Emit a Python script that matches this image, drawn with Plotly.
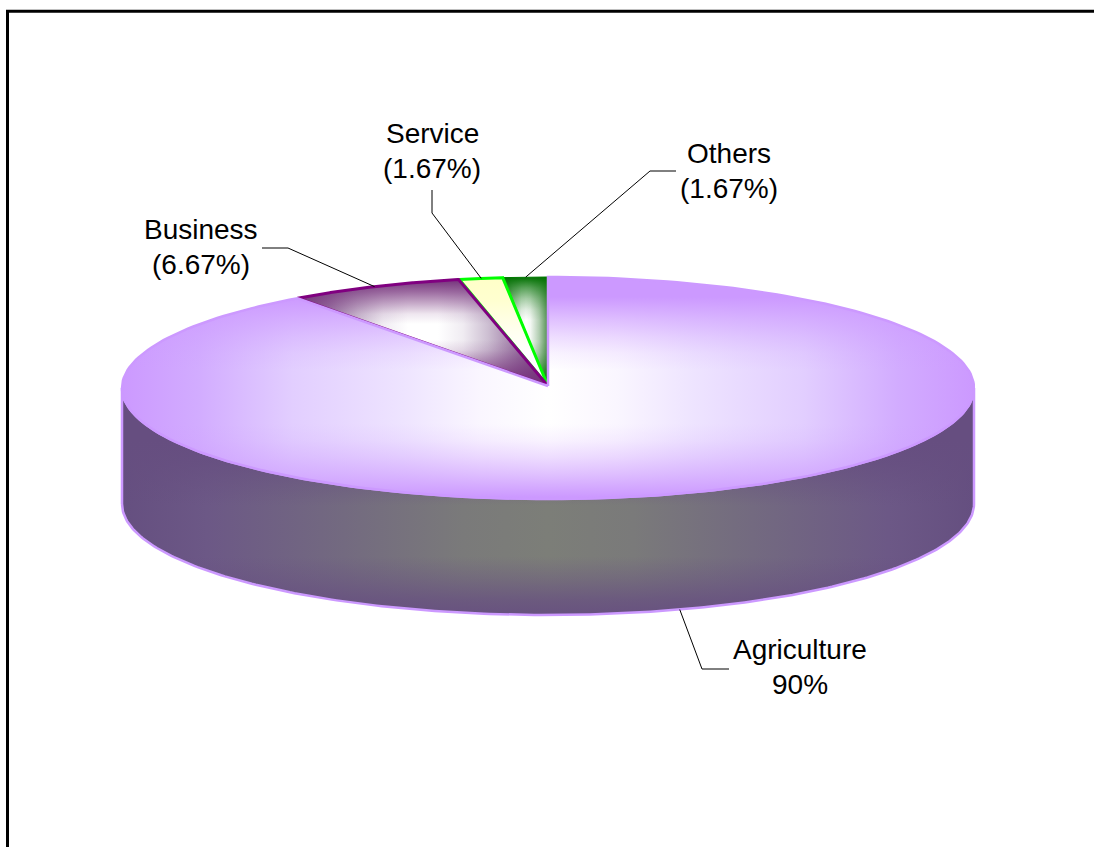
import numpy as np
import plotly.graph_objects as go

# Occupation shares, listed counter-clockwise from twelve o'clock
categories = ["Others", "Service", "Business", "Agriculture"]
shares = [1.67, 1.67, 6.67, 90]
share_labels = ["(1.67%)", "(1.67%)", "(6.67%)", "90%"]

# Disc geometry in canvas pixels
WIDTH, HEIGHT = 1094, 847
CX, CY, RX, RY = 548, 388, 426, 111
TIP_Y = 386
DEPTH = 116

# Centre of the two label lines, and the elbow of each leader line
label_xy = {
    "Others": (729, 153),
    "Service": (432, 133),
    "Business": (201, 229),
    "Agriculture": (800, 649),
}
LINE_GAP = 35
leader_path = {
    "Others": [(650, 171), (676, 171)],
    "Service": [(432, 213), (432, 190)],
    "Business": [(288, 248), (262, 248)],
    "Agriculture": [(702, 669), (729, 669)],
}

LILAC = "#CC99FF"


def arc(a0, a1, n=240, dy=0.0):
    """Points of the rim between two angles (degrees counter-clockwise from the top)."""
    t = np.radians(np.linspace(a0, a1, n))
    return CX - RX * np.sin(t), CY + dy - RY * np.cos(t)


def wedge(a0, a1):
    x, y = arc(a0, a1)
    return np.r_[CX, x, CX], np.r_[TIP_Y, y, TIP_Y]


def mirrored(stops):
    """Colour stops for a gradient that is symmetric about its middle."""
    left = [[p, c] for p, c in stops]
    right = [[1 - p, c] for p, c in reversed(stops) if p < 0.5]
    return left + right


def shade(x, y, line_color, line_width, base, veil=None):
    """A filled region: base gradient, optional translucent gradient on top, then the outline."""
    traces = [go.Scatter(
        x=x, y=y, mode="lines", fill="toself", hoverinfo="skip", showlegend=False,
        line=dict(width=0), fillcolor=base["colorscale"][0][1], fillgradient=base,
    )]
    if veil is not None:
        traces.append(go.Scatter(
            x=x, y=y, mode="lines", fill="toself", hoverinfo="skip", showlegend=False,
            line=dict(width=0), fillcolor="rgba(0,0,0,0)", fillgradient=veil,
        ))
    traces.append(go.Scatter(
        x=x, y=y, mode="lines", hoverinfo="skip", showlegend=False,
        line=dict(color=line_color, width=line_width),
    ))
    return traces


bounds = np.r_[0, np.cumsum(shares)] / np.sum(shares) * 360
edges = dict(zip(categories, zip(bounds[:-1], bounds[1:])))
mid = {c: (a + b) / 2 for c, (a, b) in edges.items()}

fig = go.Figure()

# Rim of the cylinder: the part of the lower half that faces the viewer
xb, yb = arc(90, 270, dy=DEPTH)
xt, yt = arc(270, 90)
fig.add_traces(shade(
    np.r_[xb, xt, xb[0]], np.r_[yb, yt, yb[0]], LILAC, 2.5,
    dict(type="horizontal", start=CX - RX, stop=CX + RX, colorscale=mirrored(
        [[0, "#654F80"], [0.1, "#6C5886"], [0.26, "#736A80"], [0.4, "#7A7A7A"], [0.5, "#7C7E78"]])),
    dict(type="vertical", start=440, stop=622, colorscale=mirrored(
        [[0, "rgba(102,78,128,1)"], [0.12, "rgba(102,78,128,0.75)"], [0.24, "rgba(102,78,128,0.35)"],
         [0.36, "rgba(102,78,128,0)"], [0.5, "rgba(102,78,128,0)"]])),
))

# Small slices, drawn so that each outline overlaps its neighbour as on the disc
x, y = wedge(*edges["Others"])
fig.add_traces(shade(
    x, y, "#007A00", 1,
    dict(type="horizontal", start=504, stop=548, colorscale=mirrored(
        [[0, "#508F50"], [0.2, "#B0CCB0"], [0.4, "#F4F8F4"], [0.5, "#FFFFFF"]])),
    dict(type="vertical", start=277, stop=385, colorscale=mirrored(
        [[0, "rgba(0,112,0,1)"], [0.1, "rgba(0,112,0,0.65)"], [0.2, "rgba(0,112,0,0.35)"],
         [0.3, "rgba(0,112,0,0.12)"], [0.4, "rgba(0,112,0,0)"], [0.5, "rgba(0,112,0,0)"]])),
))

x, y = wedge(*edges["Service"])
fig.add_traces(shade(
    x, y, "#00FF00", 3,
    dict(type="vertical", colorscale=[
        [0, "#FFFFFF"], [0.3, "#FFFFFF"], [0.5, "#FFFFF0"], [0.8, "#FFFFCF"], [1, "#FFFFC8"]]),
))

x, y = wedge(*edges["Business"])
fig.add_traces(shade(
    x, y, "#800080", 3,
    dict(type="horizontal", start=298, stop=548, colorscale=mirrored(
        [[0, "#763A7C"], [0.12, "#9A76A2"], [0.24, "#CDBFD2"], [0.34, "#F0ECF2"], [0.44, "#FFFFFF"], [0.5, "#FFFFFF"]])),
    dict(type="vertical", start=282, stop=382, colorscale=mirrored(
        [[0, "rgba(118,50,124,0.95)"], [0.1, "rgba(118,50,124,0.72)"], [0.2, "rgba(118,50,124,0.45)"],
         [0.32, "rgba(118,50,124,0.12)"], [0.42, "rgba(118,50,124,0)"], [0.5, "rgba(118,50,124,0)"]])),
))

# Agriculture covers the rest of the top face
x, y = wedge(edges["Agriculture"][0], 360)
fig.add_traces(shade(
    x, y, LILAC, 2.5,
    dict(type="horizontal", start=CX - RX, stop=CX + RX, colorscale=mirrored(
        [[0, "#CC99FF"], [0.09, "#D2ACFF"], [0.2, "#E2CEFF"], [0.33, "#EEE4FF"], [0.42, "#FAF6FF"], [0.5, "#FFFFFF"]])),
    dict(type="vertical", start=297, stop=497, colorscale=mirrored(
        [[0, "rgba(204,153,255,1)"], [0.03, "rgba(204,153,255,0.9)"], [0.115, "rgba(204,153,255,0.6)"],
         [0.2, "rgba(204,153,255,0.33)"], [0.28, "rgba(204,153,255,0.12)"], [0.365, "rgba(204,153,255,0)"],
         [0.5, "rgba(204,153,255,0)"]])),
))

# Leader lines start on the rim at each slice's middle angle
for c in categories:
    t = np.radians(mid[c])
    x0 = CX - RX * np.sin(t)
    y0 = CY - RY * np.cos(t) + (DEPTH if c == "Agriculture" else 0)
    px, py = zip(*leader_path[c])
    fig.add_trace(go.Scatter(
        x=[x0, *px], y=[y0, *py], mode="lines", hoverinfo="skip", showlegend=False,
        line=dict(color="#000000", width=1),
    ))

annotations = []
for c, s in zip(categories, share_labels):
    lx, ly = label_xy[c]
    for text, yy in ((c, ly), (s, ly + LINE_GAP)):
        annotations.append(dict(
            x=lx, y=yy, text=text, showarrow=False, xanchor="center", yanchor="middle",
            font=dict(family="Liberation Sans", size=28, color="#000000"),
        ))

fig.update_layout(
    width=WIDTH, height=HEIGHT, autosize=False,
    margin=dict(l=0, r=0, t=0, b=0),
    paper_bgcolor="#FFFFFF", plot_bgcolor="#FFFFFF",
    showlegend=False,
    xaxis=dict(range=[0, WIDTH], visible=False, fixedrange=True),
    yaxis=dict(range=[HEIGHT, 0], visible=False, fixedrange=True),
    annotations=annotations,
    # Frame along the top and left of the canvas
    shapes=[dict(
        type="path", xref="x", yref="y",
        path=f"M 7.5 {HEIGHT} L 7.5 11.3 L {WIDTH} 11.3",
        line=dict(color="#000000", width=3),
    )],
)

fig.write_html("out.html", config={"displayModeBar": False})
